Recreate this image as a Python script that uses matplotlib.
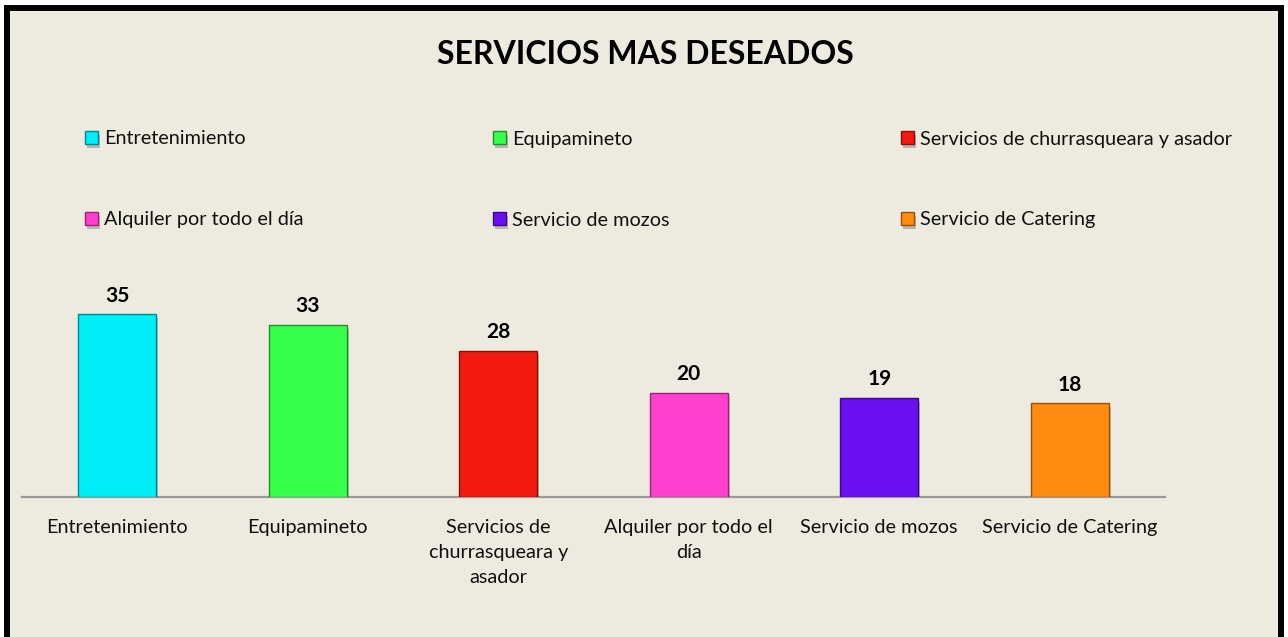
import matplotlib
matplotlib.use("Agg")
import matplotlib.pyplot as plt
from matplotlib.patches import Rectangle
import matplotlib.patheffects as pe

categories = ["Entretenimiento", "Equipamineto", "Servicios de churrasqueara y asador",
              "Alquiler por todo el día", "Servicio de mozos", "Servicio de Catering"]
tick_labels = ["Entretenimiento", "Equipamineto", "Servicios de\nchurrasqueara y\nasador",
               "Alquiler por todo el\ndía", "Servicio de mozos", "Servicio de Catering"]
values = [35, 33, 28, 20, 19, 18]
colors = ["#00EEF8", "#38FF4C", "#F21A0E", "#FF40CF", "#6A0FF0", "#FF8A10"]
edges = ["#00888F", "#1E8F2A", "#8A0E08", "#9A2278", "#3A0888", "#9A500A"]
title = "SERVICIOS MAS DESEADOS"

W, H = 1288, 637
BG = "#EDEAE0"
plt.rcParams['font.family'] = ['Lato', 'DejaVu Sans']
FS = 14.3

fig = plt.figure(figsize=(W / 100, H / 100), dpi=100)
fig.patch.set_facecolor("white")
fig.patches.append(Rectangle((6.5 / W, -0.1), (1281 - 6.5) / W, (H - 7.5) / H + 0.1,
                             transform=fig.transFigure, facecolor=BG, edgecolor="black",
                             linewidth=4.3, zorder=-10))

ax = fig.add_axes([22 / W, (H - 497) / H, (1165 - 22) / W, 209 / H])
ax.set_facecolor("none")
x = list(range(len(values)))
bars = ax.bar(x, values, width=0.41, color=colors, edgecolor=edges, linewidth=1.0, zorder=3)
for b in bars:
    b.set_path_effects([pe.withSimplePatchShadow(offset=(1.5, -3), alpha=0.22, shadow_rgbFace="black")])
ax.bar_label(bars, padding=6, fontsize=15, fontweight="bold", color="black")
ax.set_xlim(-0.5, len(values) - 0.5)
ax.set_ylim(0, 40)
ax.set_xticks(x)
ax.set_xticklabels(tick_labels, fontsize=FS, color="#111111")
for lab in ax.get_xticklabels():
    lab.set_linespacing(1.58)
ax.tick_params(axis="x", length=0, pad=16)
ax.set_yticks([])
for s in ["left", "right", "top"]:
    ax.spines[s].set_visible(False)
ax.spines["bottom"].set_color("#9A9A9A")
ax.spines["bottom"].set_linewidth(1.6)

fig.text(645 / W, 1 - 55 / H, title, ha="center", va="center", fontsize=23,
         fontweight="bold", color="black")

leg_x = [85, 493, 901, 85, 493, 901]
leg_y = [139, 139, 139, 220, 220, 220]
for b, lab, lx, ly in zip(bars, categories, leg_x, leg_y):
    fig.legend(handles=[b], labels=[lab], loc="center left",
               bbox_to_anchor=(lx / W, 1 - ly / H), bbox_transform=fig.transFigure,
               frameon=False, fontsize=FS, handlelength=0.66, handleheight=0.66,
               handletextpad=0.3, borderpad=0, borderaxespad=0, labelcolor="#111111")

fig.savefig("out.png", dpi=100, facecolor=fig.get_facecolor())
